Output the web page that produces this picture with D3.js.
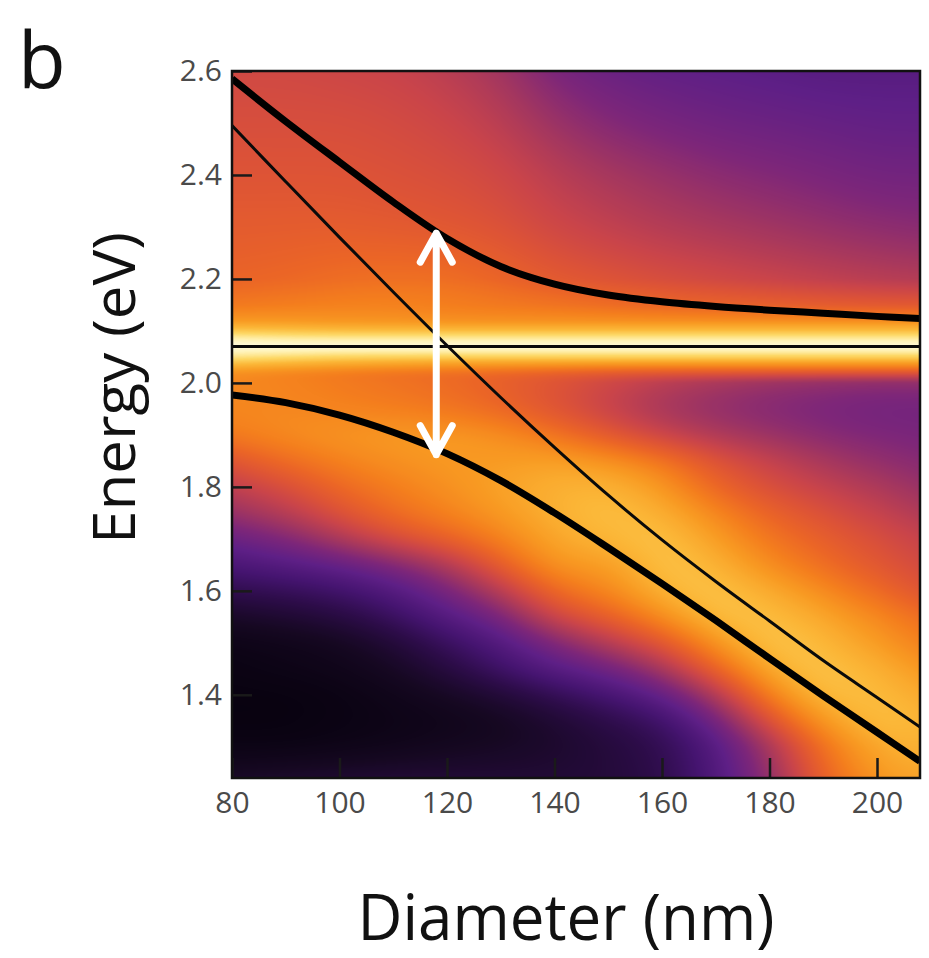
<!DOCTYPE html>
<html>
<head>
<meta charset="utf-8">
<script src="https://cdn.jsdelivr.net/npm/d3@7"></script>
<style>
  html, body { margin: 0; padding: 0; background: #fff; }
  svg { display: block; }
  text { font-family: "Century Gothic", "URW Gothic", "Open Sans", sans-serif; }
</style>
</head>
<body>
<svg id="chart" width="929" height="958"></svg>
<script>
// ---- axis ticks ----
const diameterTicks = [80, 100, 120, 140, 160, 180, 200];
const energyTicks = [1.4, 1.6, 1.8, 2.0, 2.2, 2.4, 2.6];

// ---- mode dispersion (eV) vs nanoparticle diameter (nm) ----
const modeDiameter   = [80, 90, 100, 110, 120, 130, 140, 150, 160, 170, 180, 190, 200, 208];
const upperPolariton = [2.585, 2.503, 2.425, 2.348, 2.278, 2.224, 2.190, 2.169, 2.156, 2.147, 2.140, 2.134, 2.128, 2.124];
const lowerPolariton = [1.977, 1.962, 1.938, 1.905, 1.864, 1.812, 1.750, 1.683, 1.614, 1.543, 1.470, 1.398, 1.328, 1.272];
const plasmonMode    = [2.495, 2.387, 2.280, 2.175, 2.072, 1.972, 1.876, 1.784, 1.698, 1.618, 1.542, 1.466, 1.395, 1.338];
const excitonEnergy  = 2.07;

// Rabi splitting marker
const splitDiameter = 118;
const splitTop = 2.288;
const splitBottom = 1.862;

// ---- scattering intensity map (normalised), rows = energy, columns = diameter ----
const mapDiameter = [80, 90, 100, 110, 120, 130, 140, 150, 160, 170, 180, 190, 200, 208];
const mapEnergy = [2.60, 2.50, 2.40, 2.30, 2.20, 2.15, 2.12, 2.10, 2.085, 2.07, 2.055, 2.04, 2.02, 2.00,
                   1.95, 1.90, 1.85, 1.80, 1.75, 1.70, 1.65, 1.60, 1.55, 1.50, 1.45, 1.40, 1.35, 1.30, 1.24];
const intensity = [
  [0.58,0.58,0.57,0.56,0.53,0.48,0.39,0.35,0.33,0.32,0.31,0.30,0.30,0.30],
  [0.60,0.60,0.60,0.59,0.57,0.53,0.46,0.41,0.38,0.36,0.35,0.34,0.33,0.33],
  [0.62,0.62,0.62,0.61,0.60,0.58,0.53,0.49,0.46,0.43,0.41,0.39,0.37,0.37],
  [0.65,0.65,0.65,0.64,0.63,0.61,0.57,0.54,0.51,0.49,0.47,0.45,0.43,0.42],
  [0.67,0.68,0.70,0.71,0.71,0.68,0.64,0.62,0.60,0.58,0.56,0.54,0.52,0.51],
  [0.73,0.74,0.75,0.75,0.74,0.73,0.72,0.70,0.68,0.67,0.66,0.65,0.64,0.64],
  [0.79,0.79,0.78,0.78,0.77,0.77,0.77,0.77,0.77,0.77,0.77,0.77,0.77,0.77],
  [0.90,0.89,0.88,0.88,0.88,0.88,0.88,0.88,0.88,0.88,0.88,0.88,0.88,0.88],
  [0.97,0.96,0.96,0.96,0.96,0.96,0.96,0.96,0.96,0.96,0.96,0.96,0.96,0.96],
  [1.00,1.00,1.00,1.00,1.00,1.00,1.00,1.00,1.00,1.00,1.00,1.00,1.00,1.00],
  [0.96,0.95,0.94,0.94,0.94,0.94,0.94,0.94,0.94,0.94,0.94,0.94,0.94,0.94],
  [0.90,0.88,0.86,0.85,0.84,0.84,0.84,0.84,0.84,0.84,0.84,0.84,0.84,0.84],
  [0.77,0.75,0.73,0.71,0.70,0.68,0.66,0.64,0.63,0.63,0.63,0.63,0.63,0.63],
  [0.76,0.75,0.73,0.71,0.69,0.66,0.62,0.57,0.52,0.48,0.45,0.43,0.42,0.42],
  [0.76,0.76,0.75,0.74,0.72,0.68,0.62,0.55,0.48,0.44,0.41,0.39,0.37,0.37],
  [0.74,0.77,0.79,0.80,0.80,0.78,0.72,0.64,0.56,0.50,0.46,0.42,0.40,0.39],
  [0.63,0.70,0.75,0.78,0.80,0.80,0.82,0.79,0.73,0.62,0.55,0.49,0.44,0.42],
  [0.54,0.60,0.69,0.74,0.78,0.82,0.85,0.86,0.80,0.68,0.60,0.55,0.50,0.46],
  [0.46,0.52,0.62,0.70,0.75,0.80,0.85,0.88,0.85,0.76,0.67,0.61,0.55,0.51],
  [0.35,0.40,0.50,0.60,0.67,0.75,0.83,0.86,0.89,0.81,0.72,0.66,0.60,0.56],
  [0.26,0.29,0.33,0.40,0.50,0.66,0.80,0.80,0.89,0.86,0.77,0.70,0.63,0.59],
  [0.17,0.19,0.22,0.28,0.38,0.52,0.70,0.76,0.86,0.89,0.84,0.77,0.69,0.63],
  [0.09,0.11,0.14,0.20,0.29,0.38,0.58,0.66,0.78,0.88,0.88,0.83,0.76,0.71],
  [0.04,0.05,0.07,0.12,0.20,0.28,0.40,0.52,0.63,0.80,0.89,0.87,0.80,0.75],
  [0.03,0.04,0.05,0.08,0.14,0.22,0.30,0.36,0.48,0.68,0.85,0.89,0.85,0.80],
  [0.02,0.02,0.03,0.05,0.08,0.12,0.18,0.24,0.32,0.50,0.76,0.88,0.87,0.84],
  [0.02,0.02,0.03,0.04,0.05,0.07,0.11,0.16,0.21,0.36,0.62,0.81,0.88,0.86],
  [0.03,0.03,0.04,0.05,0.07,0.08,0.10,0.13,0.17,0.28,0.48,0.72,0.84,0.85],
  [0.09,0.10,0.11,0.12,0.12,0.12,0.12,0.13,0.16,0.27,0.44,0.68,0.80,0.82]
];

// ---- colour map (black - purple - red - orange - yellow - white) ----
const heatStops = [0.00, 0.08, 0.16, 0.24, 0.32, 0.40, 0.48, 0.56, 0.62, 0.68, 0.74, 0.80, 0.86, 0.92, 0.97, 1.00];
const heatColors = ["#04000a", "#160822", "#2c0c48", "#451470", "#5e1f86", "#7d2679", "#a3365f", "#c9444a",
                    "#dd5336", "#eb6526", "#f47e1d", "#f89a22", "#fbb637", "#fdd866", "#fff3b8", "#fffde8"];
const heatColor = d3.scaleLinear().domain(heatStops).range(heatColors).interpolate(d3.interpolateRgb).clamp(true);

// ---- layout ----
const svg = d3.select("#chart");
const x = d3.scaleLinear().domain([80, 208]).range([232, 920]);
const y = d3.scaleLinear().domain([1.24, 2.6]).range([778, 71]);
const [px0, px1] = x.range();
const [py1, py0] = y.range();
const W = Math.round(px1 - px0), H = Math.round(py1 - py0);

// ---- render the intensity map into a bitmap (smooth spline between grid nodes) ----
const canvas = document.createElement("canvas");
canvas.width = W; canvas.height = H;
const ctx = canvas.getContext("2d");
const img = ctx.createImageData(W, H);
const colT = d3.scaleLinear().domain(mapDiameter)
  .range(mapDiameter.map((d, i) => i / (mapDiameter.length - 1))).clamp(true);
const rowT = d3.scaleLinear().domain(mapEnergy)
  .range(mapEnergy.map((d, i) => i / (mapEnergy.length - 1))).clamp(true);
const rowSplines = intensity.map(r => d3.interpolateBasis(r));
const lut = d3.range(512).map(i => d3.rgb(heatColor(i / 511)));
for (let i = 0; i < W; i++) {
  const tc = colT(x.invert(px0 + i + 0.5));
  const column = d3.interpolateBasis(rowSplines.map(f => f(tc)));
  for (let j = 0; j < H; j++) {
    const v = column(rowT(y.invert(py0 + j + 0.5)));
    const c = lut[Math.max(0, Math.min(511, Math.round(v * 511)))];
    const k = 4 * (j * W + i);
    img.data[k] = c.r; img.data[k + 1] = c.g; img.data[k + 2] = c.b; img.data[k + 3] = 255;
  }
}
ctx.putImageData(img, 0, 0);

svg.append("defs").append("clipPath").attr("id", "plot-clip")
  .append("rect").attr("x", px0).attr("y", py0).attr("width", W).attr("height", H);

svg.append("image")
  .attr("x", px0).attr("y", py0).attr("width", W).attr("height", H)
  .attr("preserveAspectRatio", "none")
  .attr("href", canvas.toDataURL());

// ---- mode lines ----
const plot = svg.append("g").attr("clip-path", "url(#plot-clip)");
const modeLine = d3.line()
  .x((d, i) => x(modeDiameter[i]))
  .y(d => y(d))
  .curve(d3.curveCatmullRom.alpha(0.5));

plot.append("line")
  .attr("x1", x(80)).attr("x2", x(208))
  .attr("y1", y(excitonEnergy)).attr("y2", y(excitonEnergy))
  .attr("stroke", "#0a0a0a").attr("stroke-width", 3);

plot.append("path").datum(plasmonMode)
  .attr("d", modeLine).attr("fill", "none")
  .attr("stroke", "#0a0a0a").attr("stroke-width", 3);

[upperPolariton, lowerPolariton].forEach(series => {
  plot.append("path").datum(series)
    .attr("d", modeLine).attr("fill", "none")
    .attr("stroke", "#000").attr("stroke-width", 7);
});

// ---- Rabi splitting double arrow ----
const ax = x(splitDiameter), aTop = y(splitTop), aBot = y(splitBottom);
const headW = 16, headH = 29;
plot.append("path")
  .attr("d", `M${ax},${aTop}L${ax},${aBot}` +
             `M${ax - headW},${aTop + headH}L${ax},${aTop}L${ax + headW},${aTop + headH}` +
             `M${ax - headW},${aBot - headH}L${ax},${aBot}L${ax + headW},${aBot - headH}`)
  .attr("fill", "none").attr("stroke", "#fff")
  .attr("stroke-width", 7).attr("stroke-linecap", "round").attr("stroke-linejoin", "round");

// ---- axes (ticks pointing inward) ----
const yAxis = d3.axisLeft(y).tickValues(energyTicks).tickFormat(d3.format(".1f"))
  .tickSizeInner(-20).tickSizeOuter(0).tickPadding(10);
const xAxis = d3.axisBottom(x).tickValues(diameterTicks).tickFormat(d3.format("d"))
  .tickSizeInner(-20).tickSizeOuter(0).tickPadding(14);

const gy = svg.append("g").attr("transform", `translate(${px0},0)`).call(yAxis);
const gx = svg.append("g").attr("transform", `translate(0,${py1})`).call(xAxis);
[gx, gy].forEach(g => {
  g.select(".domain").remove();
  g.selectAll(".tick line").attr("stroke", "#1a1a1a").attr("stroke-width", 2.5);
  g.selectAll(".tick text").attr("fill", "#4a4a4a").attr("font-size", 30)
    .style("font-family", "\"Century Gothic\", \"URW Gothic\", \"Open Sans\", sans-serif");
});

// frame
svg.append("rect")
  .attr("x", px0).attr("y", py0).attr("width", W).attr("height", H)
  .attr("fill", "none").attr("stroke", "#111").attr("stroke-width", 2.5);

// ---- titles ----
svg.append("text")
  .attr("x", 566).attr("y", 940)
  .attr("text-anchor", "middle")
  .attr("font-size", 64).attr("fill", "#111")
  .attr("textLength", 417).attr("lengthAdjust", "spacingAndGlyphs")
  .text("Diameter (nm)");

svg.append("text")
  .attr("transform", "translate(135,388) rotate(-90)")
  .attr("text-anchor", "middle")
  .attr("font-size", 58).attr("fill", "#111")
  .attr("textLength", 312).attr("lengthAdjust", "spacingAndGlyphs")
  .text("Energy (eV)");

svg.append("text")
  .attr("x", 18).attr("y", 88)
  .attr("font-size", 78).attr("fill", "#111")
  .text("b");
</script>
</body>
</html>
